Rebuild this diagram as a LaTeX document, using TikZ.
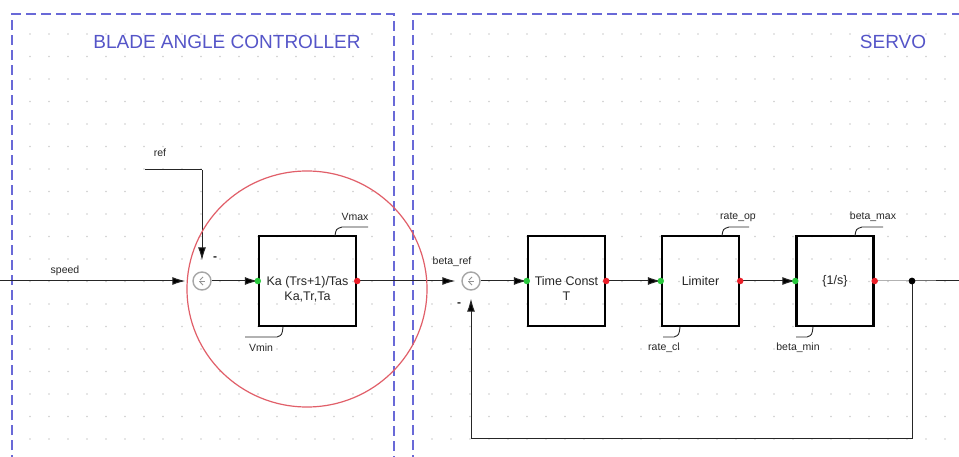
\documentclass[tikz,border=0pt]{standalone}
\usepackage{fontspec}
\setmainfont{Liberation Sans}
\usetikzlibrary{arrows.meta,calc}
\definecolor{frameblue}{RGB}{105,105,215}
\definecolor{titleblue}{RGB}{85,85,200}
\definecolor{ringred}{RGB}{225,95,105}
\definecolor{portgreen}{RGB}{40,200,60}
\definecolor{portred}{RGB}{235,30,40}
\definecolor{dotgrey}{RGB}{205,205,205}
\begin{document}
\begin{tikzpicture}[x=1pt,y=1pt,
  frame/.style={draw=frameblue, line width=1.3pt, dash pattern=on 10pt off 5pt},
  title/.style={text=titleblue, font=\fontsize{19}{21}\selectfont, inner sep=0},
  blockbox/.style={draw=black, line width=2.4pt, inner sep=0, minimum height=90pt},
  blocktext/.style={font=\fontsize{12.5}{15}\selectfont, text=black!85, align=center, inner sep=0},
  lbl/.style={font=\fontsize{10.5}{12}\selectfont, text=black!85, inner sep=0},
  sumnode/.style={circle, draw=gray!70, line width=1.4pt, minimum size=18pt, inner sep=0},
  conn/.style={draw=black!85, line width=1pt},
  arr/.style={-{Latex[length=13pt,width=8pt,fill=black]}},
  leader/.style={draw=black!85, line width=0.9pt},
  port/.style={circle, inner sep=0, minimum size=6.5pt},
  ring/.style={draw=ringred, line width=1.2pt}
]
\useasboundingbox (0,-457) rectangle (959,0);
\clip (0,-457) rectangle (959,0);
\fill[white] (0,-457) rectangle (959,0);

% dot grids
\foreach \yy in {34,56.5,...,456} {
  \foreach \xx in {30,49,...,385} { \fill[dotgrey] (\xx,-\yy) circle (0.9); }
  \foreach \xx in {432,451,...,959} { \fill[dotgrey] (\xx,-\yy) circle (0.9); }
}

% frames
\draw[frame] (12,-480) -- (12,-14) -- (394,-14) -- (394,-480);
\draw[frame] (413,-480) -- (413,-14) -- (975,-14);

\node[title] (t1) at (227,-42) {BLADE ANGLE CONTROLLER};
\node[title] (t2) at (893,-42) {SERVO};

% blocks
\node[blockbox, minimum width=97pt] (b1) at (307.5,-281) {};
\node[blocktext] (b1t) at (307.5,-289.5) {Ka (Trs+1)/Tas\\Ka,Tr,Ta};
\node[blockbox, minimum width=77pt] (tc) at (566.5,-281) {};
\node[blocktext] (tct) at (566.5,-288.5) {Time Const\\T};
\node[blockbox, minimum width=77pt] (lim) at (700.5,-281) {};
\node[blocktext] (limt) at (700.5,-281) {Limiter};
\node[blockbox, minimum width=77pt] (integ) at (835,-281) {};
\node[blocktext] (integt) at (835,-281) {\{1/s\}};

% summation points
\node[sumnode] (sum1) at (202,-281) {};
\node[sumnode] (sum2) at (471,-281) {};
\foreach \s in {sum1,sum2} {
  \draw[gray!85, line width=0.8pt] ($(\s)+(-3,0)$) -- ($(\s)+(3,0)$);
  \draw[gray!85, line width=0.8pt] ($(\s)+(1,4)$) -- ($(\s)+(-2,1)$);
  \draw[gray!85, line width=0.8pt] ($(\s)+(-2,-1)$) -- ($(\s)+(1,-4)$);
}

% coordinates
\coordinate (speedin) at (0,-281);
\coordinate (refin) at (145,-170);
\coordinate (refcorner) at (202,-170);
\coordinate (junction) at (912,-281);
\coordinate (outend) at (959,-281);
\coordinate (fbr) at (912,-438);
\coordinate (fbl) at (471,-438);

% connectors
\draw[conn, arr, shorten >=7pt] (speedin) -- (sum1);
\draw[conn] (refin) -- (refcorner);
\draw[conn, arr, shorten >=11pt] (refcorner) -- (sum1);
\draw[conn, arr] (sum1) -- (b1.west);
\draw[conn, arr, shorten >=6pt] (b1.east) -- (sum2);
\draw[conn, arr] (sum2) -- (tc.west);
\draw[conn, arr] (tc.east) -- (lim.west);
\draw[conn, arr] (lim.east) -- (integ.west);
\draw[conn] (integ.east) -- (junction) -- (outend);
\draw[conn, arr, shorten >=8pt] (junction) -- (fbr) -- (fbl) -- (sum2);
\fill[black] (junction) circle (3.4);

% ports
\foreach \b in {b1,tc,lim,integ} {
  \node[port, fill=portgreen] at (\b.west) {};
  \node[port, fill=portred] at (\b.east) {};
}

% labels
\node[lbl] (speedl) at (65,-271) {speed};
\node[lbl] (refl) at (160,-153) {ref};
\node[lbl, font=\fontsize{12}{12}\bfseries] (m1) at (215,-259) {-};
\node[lbl] (betaref) at (452,-262) {beta\_ref};
\node[lbl, font=\fontsize{12}{12}\bfseries] (m2) at (459,-305) {-};

\node[lbl] (vmax) at (355,-217) {Vmax};
\draw[leader] (335,-236) .. controls (336,-229) .. (342,-227) -- (368,-227);
\node[lbl] (vmin) at (261,-348) {Vmin};
\draw[leader] (283,-327) .. controls (282,-335) .. (277,-337) -- (245,-337);

\node[lbl] (rateop) at (738,-217) {rate\_op};
\draw[leader] (722,-236) .. controls (723,-229) .. (729,-227) -- (749,-227);
\node[lbl] (ratecl) at (664,-348) {rate\_cl};
\draw[leader] (680,-327) .. controls (679,-335) .. (674,-337) -- (663,-337);

\node[lbl] (betamax) at (873,-217) {beta\_max};
\draw[leader] (855,-236) .. controls (856,-229) .. (862,-227) -- (883,-227);
\node[lbl] (betamin) at (798,-348) {beta\_min};
\draw[leader] (813,-327) .. controls (812,-335) .. (807,-337) -- (796,-337);

% red ring
\draw[ring] (307,-289) ellipse [x radius=120, y radius=118];
\end{tikzpicture}
\end{document}
